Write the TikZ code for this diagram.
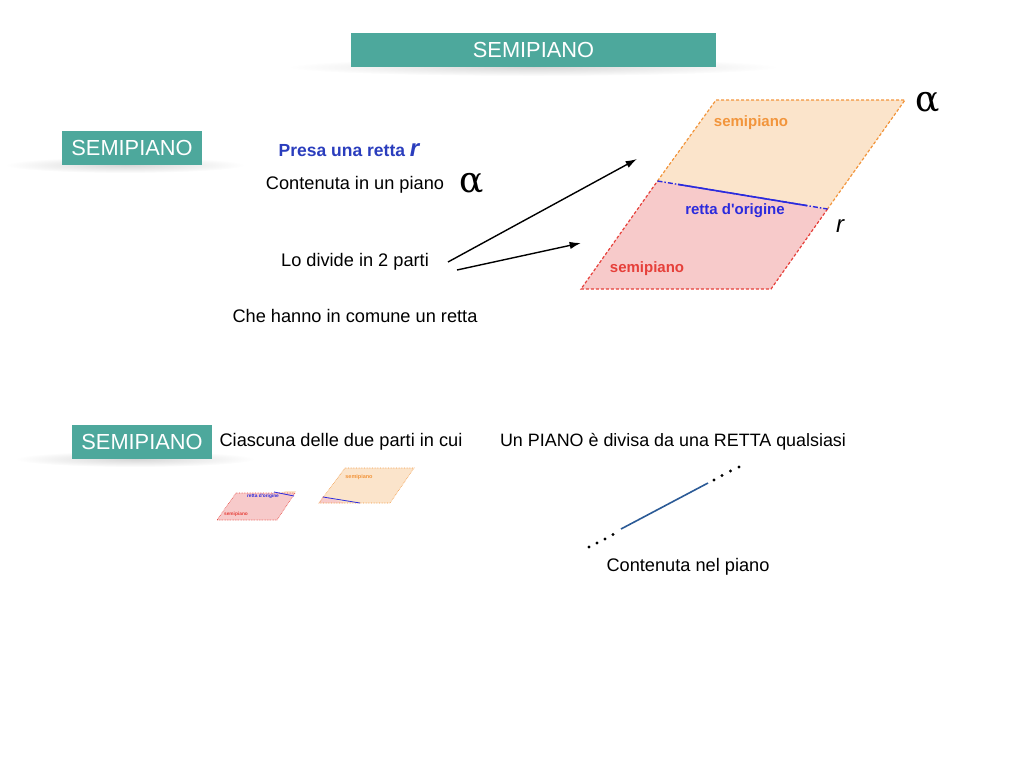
\documentclass[tikz,border=0pt]{standalone}
\usepackage{fontspec}
\setmainfont{Liberation Sans}
\newfontfamily\alphafont{DejaVu Serif}
\usetikzlibrary{arrows.meta,positioning,calc}

\definecolor{bannerteal}{HTML}{4DA89C}
\definecolor{presablue}{HTML}{2A3DBD}
\definecolor{rettablue}{HTML}{2B2BDD}
\definecolor{halforange}{HTML}{FBE4CB}
\definecolor{halforangeline}{HTML}{F2953C}
\definecolor{halfred}{HTML}{F7CACA}
\definecolor{halfredline}{HTML}{E6403A}
\definecolor{linenavy}{HTML}{2B5A96}

\tikzset{
  banner/.style={fill=bannerteal, text=white, minimum height=34pt, inner sep=0pt,
    font=\fontsize{21.8}{26}\selectfont},
  bannershadow/.style={inner color=black!16, outer color=white},
  tinylabel/.style={font=\bfseries\fontsize{15}{18}\selectfont},
  alphalabel/.style={font=\alphafont\fontsize{36}{36}\selectfont, inner sep=0pt},
  arrow/.style={line width=1.4pt, -{Latex[length=4mm,width=2.6mm]}}
}

\begin{document}
\begin{tikzpicture}[x=1pt, y=-1pt, every node/.style={font=\fontsize{18.2}{22}\selectfont}]
  \useasboundingbox (0,0) rectangle (1024,768);

  % Banners
  \shade[bannershadow] (533,67) ellipse (245 and 9);
  \shade[bannershadow] (125,165) ellipse (120 and 8);
  \shade[bannershadow] (135,459) ellipse (120 and 8);
  \node[banner, minimum width=365pt] (title) at (533.5,50) {SEMIPIANO};
  \node[banner, minimum width=140pt] (bannerA) at (132,148) {SEMIPIANO};
  \node[banner, minimum width=140pt] (bannerB) at (142,442) {SEMIPIANO};

  % Text on the left
  \node[text=presablue, font=\bfseries\fontsize{17.5}{21}\selectfont] (presa) at (349,150)
    {Presa una retta {\itshape\fontsize{24}{24}\selectfont r}};
  \node (contenuta) at (355,184.5) {Contenuta in un piano};
  \node[alphalabel] (alphaA) at (472,183) {α};
  \node (divide) at (355,261.5) {Lo divide in 2 parti};
  \node (comune) at (355,315.5) {Che hanno in comune un retta};

  % Plane
  \coordinate (tl) at (716,100);
  \coordinate (tr) at (905,100);
  \coordinate (br) at (771,289);
  \coordinate (bl) at (581,289);
  \coordinate (ml) at (657.5,181);
  \coordinate (mr) at (827.5,209);
  \fill[halforange] (tl) -- (tr) -- (mr) -- (ml) -- cycle;
  \fill[halfred] (ml) -- (mr) -- (br) -- (bl) -- cycle;
  \draw[halforangeline, line width=1.2pt, dash pattern=on 3pt off 2pt] (ml) -- (tl) -- (tr) -- (mr);
  \draw[halfredline, line width=1.2pt, dash pattern=on 3pt off 2pt] (mr) -- (br) -- (bl) -- (ml);
  \draw[rettablue, line width=1.4pt, dash pattern=on 5pt off 2pt on 1.5pt off 2pt] (ml) -- (mr);
  \draw[rettablue, line width=1.6pt] ($(ml)!0.12!(mr)$) -- ($(ml)!0.88!(mr)$);

  \node[tinylabel, text=halforangeline] (semiA) at (751,123) {semipiano};
  \node[tinylabel, text=rettablue] (origine) at (735,211) {retta d\textquotesingle origine};
  \node[tinylabel, text=halfredline] (semiB) at (647,269) {semipiano};
  \node[font=\itshape\fontsize{24}{24}\selectfont] (rlabel) at (840,226) {r};
  \node[alphalabel] (alphaB) at (928,102) {α};

  % Arrows
  \coordinate (startA) at (448,262);
  \coordinate (startB) at (457,270);
  \coordinate (endA) at (637,159);
  \coordinate (endB) at (581,243);
  \draw[arrow] (startA) -- (endA);
  \draw[arrow] (startB) -- (endB);

  % Lower part
  \node (ciascuna) at (341,442) {Ciascuna delle due parti in cui};
  \node[font=\fontsize{17.9}{22}\selectfont] (pianoretta) at (673,442) {Un PIANO è divisa da una RETTA qualsiasi};
  \node (nelpiano) at (688,567) {Contenuta nel piano};

  % Small half planes
  \fill[halfred] (236,493) -- (295,493) -- (277,520) -- (217,520) -- cycle;
  \fill[halforange] (286,491) -- (296,491) -- (295,493) -- (280,493) -- cycle;
  \draw[halfredline, densely dotted, line width=0.6pt] (236,493) -- (295,493) -- (277,520) -- (217,520) -- cycle;
  \draw[rettablue, line width=0.8pt] (274,492) -- (294,496);
  \node[font=\bfseries\fontsize{4.8}{5}\selectfont, text=rettablue] (origineS) at (263,496) {retta d\textquotesingle origine};
  \node[font=\bfseries\fontsize{4.8}{5}\selectfont, text=halfredline] (semiS) at (236,514) {semipiano};

  \fill[halforange] (345,468) -- (414,468) -- (390,503) -- (319,503) -- cycle;
  \fill[halfred] (319,503) -- (323,496) -- (345,503) -- cycle;
  \draw[halforangeline, densely dotted, line width=0.6pt] (345,468) -- (414,468) -- (390,503) -- (319,503) -- cycle;
  \draw[rettablue, line width=0.8pt] (323,497) -- (360,503);
  \node[font=\bfseries\fontsize{5.5}{6}\selectfont, text=halforangeline] (semiT) at (359,477) {semipiano};

  % Line with dots
  \coordinate (lineA) at (621,529);
  \coordinate (lineB) at (708,483);
  \draw[linenavy, line width=1.6pt] (lineA) -- (lineB);
  \foreach \x/\y in {589/547, 597/543, 605/539, 613/534.5, 714/480, 722/475.5, 730.5/471, 739/467}
    \fill (\x,\y) circle (1.6);
\end{tikzpicture}
\end{document}
